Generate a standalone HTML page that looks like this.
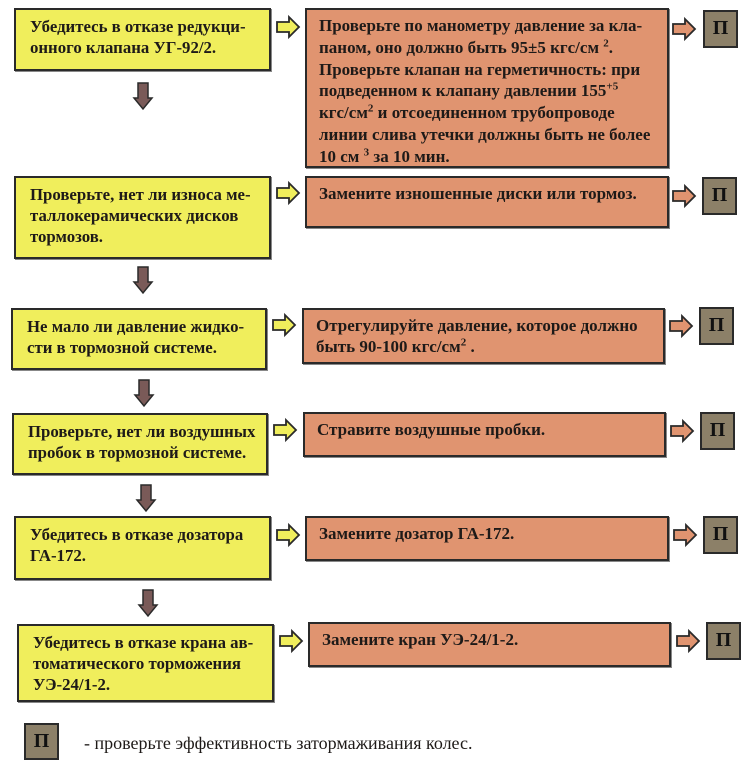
<!DOCTYPE html>
<html><head><meta charset="utf-8"><style>
body{margin:0;width:750px;height:771px;background:#fff;position:relative;overflow:hidden;font-family:"Liberation Serif","DejaVu Serif",serif;}
.b{position:absolute;box-sizing:border-box;border:2px solid #2a2a2a;font-weight:bold;font-size:17px;line-height:21px;color:#1e1a18;box-shadow:1px 1px 0 #888;white-space:nowrap;}
.y{background:#f0ee5c;padding:6px 6px 0 14px;font-size:16.8px;}
.s{background:#e09470;padding:5px 6px 0 12px;}
.p{position:absolute;box-sizing:border-box;width:35px;height:38px;border:2px solid #2a2a2a;background:#8c8068;font-weight:bold;font-size:20px;text-align:center;line-height:32px;color:#111;}
svg{position:absolute;}
sup{font-size:11px;line-height:0;}
</style></head><body>

<svg width="750" height="771" style="left:0;top:0">
<defs>
<g id="ya"><path d="M0,-5 H12 V-10 L22,0 L12,10 V5 H0 Z" fill="#f0ee5c" stroke="#2a2a2a" stroke-width="1.8"/></g>
<g id="sa"><path d="M0,-5 H12 V-10 L22,0 L12,10 V5 H0 Z" fill="#e09470" stroke="#2a2a2a" stroke-width="1.8"/></g>
<g id="da"><path d="M-5,0 H5 V15 H9 L0,26 L-9,15 H-5 Z" fill="#7a5a58" stroke="#2a2a2a" stroke-width="1.5"/></g>
</defs>
<use href="#ya" x="277" y="27"/><use href="#sa" x="673" y="29"/>
<use href="#ya" x="277" y="193"/><use href="#sa" x="673" y="196"/>
<use href="#ya" x="273" y="325"/><use href="#sa" x="670" y="326"/>
<use href="#ya" x="274" y="430"/><use href="#sa" x="671" y="431"/>
<use href="#ya" x="277" y="535"/><use href="#sa" x="674" y="535"/>
<use href="#ya" x="280" y="641"/><use href="#sa" x="677" y="641"/>
<use href="#da" x="143" y="83"/>
<use href="#da" x="143" y="267"/>
<use href="#da" x="144" y="380"/>
<use href="#da" x="146" y="485"/>
<use href="#da" x="148" y="590"/>
</svg>

<div class="b y" style="left:14px;top:8px;width:257px;height:63px;">Убедитесь в отказе редукци-<br>онного клапана УГ-92/2.</div>
<div class="b s" style="left:305px;top:8px;width:364px;height:160px;line-height:21.8px;">Проверьте по манометру давление за кла-<br>паном, оно должно быть 95±5 кгс/см <sup>2</sup>.<br>Проверьте клапан на герметичность: при<br>подведенном к клапану давлении 155<sup>+5</sup><br>кгс/см<sup>2</sup> и отсоединенном трубопроводе<br>линии слива утечки должны быть не более<br>10 см <sup>3</sup> за 10 мин.</div>
<div class="p" style="left:703px;top:10px;">П</div>

<div class="b y" style="left:14px;top:176px;width:257px;height:83px;">Проверьте, нет ли износа ме-<br>таллокерамических дисков<br>тормозов.</div>
<div class="b s" style="left:305px;top:176px;width:364px;height:52px;">Замените изношенные диски или тормоз.</div>
<div class="p" style="left:702px;top:177px;">П</div>

<div class="b y" style="left:11px;top:308px;width:256px;height:62px;">Не мало ли давление жидко-<br>сти в тормозной системе.</div>
<div class="b s" style="left:302px;top:308px;width:363px;height:56px;">Отрегулируйте давление, которое должно<br>быть 90-100 кгс/см<sup>2</sup> .</div>
<div class="p" style="left:699px;top:307px;">П</div>

<div class="b y" style="left:12px;top:413px;width:256px;height:62px;">Проверьте, нет ли воздушных<br>пробок в тормозной системе.</div>
<div class="b s" style="left:303px;top:412px;width:363px;height:45px;">Стравите воздушные пробки.</div>
<div class="p" style="left:700px;top:412px;">П</div>

<div class="b y" style="left:14px;top:516px;width:257px;height:64px;">Убедитесь в отказе дозатора<br>ГА-172.</div>
<div class="b s" style="left:305px;top:516px;width:364px;height:45px;">Замените дозатор ГА-172.</div>
<div class="p" style="left:703px;top:516px;">П</div>

<div class="b y" style="left:17px;top:624px;width:257px;height:78px;">Убедитесь в отказе крана ав-<br>томатического торможения<br>УЭ-24/1-2.</div>
<div class="b s" style="left:308px;top:622px;width:363px;height:45px;">Замените кран УЭ-24/1-2.</div>
<div class="p" style="left:706px;top:622px;">П</div>

<div class="p" style="left:24px;top:723px;height:37px;">П</div>
<div style="position:absolute;left:84px;top:733px;font-size:18px;color:#1e1a18;white-space:nowrap;">- проверьте эффективность затормаживания колес.</div>
</body></html>
